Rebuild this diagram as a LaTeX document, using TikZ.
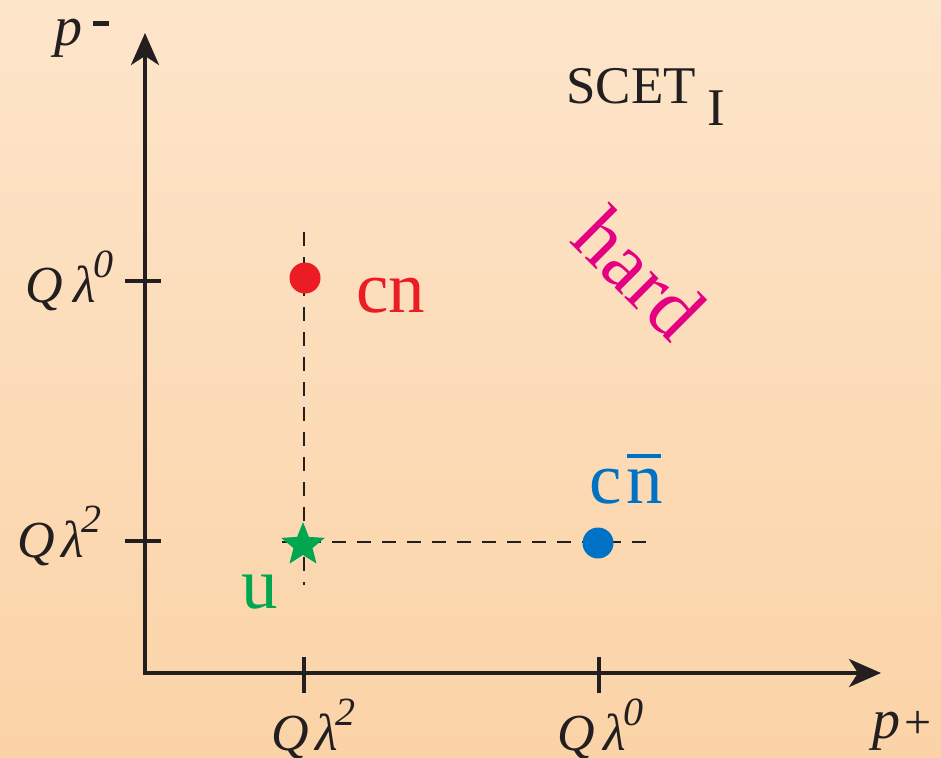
\documentclass[tikz,border=0pt]{standalone}
\usepackage{fontspec}
\setmainfont{Liberation Serif}
\usetikzlibrary{arrows.meta,shapes.geometric}
\definecolor{bgtop}{RGB}{253,229,202}
\definecolor{bgbot}{RGB}{251,211,167}
\definecolor{myred}{RGB}{236,28,36}
\definecolor{myblue}{RGB}{0,114,198}
\definecolor{mygreen}{RGB}{0,166,80}
\definecolor{mymag}{RGB}{228,0,130}
\definecolor{ink}{RGB}{35,31,32}
\newcommand{\ql}[2]{\textit{Q}\kern#2\textit{λ}\kern-3pt\raisebox{25pt}{\fontsize{40}{40}\selectfont\textit{#1}}}
\begin{document}
\begin{tikzpicture}[x=1pt,y=-1pt,
  axis/.style={ink,line width=3.8pt,-{Stealth[length=32pt,width=28pt,inset=9pt]}},
  tick/.style={ink,line width=3.2pt},
  guide/.style={ink,line width=1.5pt,dash pattern=on 14pt off 11pt},
  lab/.style={font=\fontsize{52}{56}\selectfont,text=ink,inner sep=0pt},
  big/.style={inner sep=0pt,font=\fontsize{73}{76}\selectfont},
  dot/.style={circle,inner sep=0pt,minimum size=31pt}]
\useasboundingbox (0,0) rectangle (941,757);
\shade[top color=bgtop,bottom color=bgbot] (0,0) rectangle (941,757);
% axis ends
\coordinate (ytop) at (145,33);
\coordinate (xend) at (881,673);
% guides
\coordinate (vg1) at (304,232);
\coordinate (vg2) at (304,585);
\coordinate (hg1) at (282,542);
\coordinate (hg2) at (650,542);
\draw[guide] (vg1) -- (vg2);
\draw[guide] (hg1) -- (hg2);
% axes
\draw[axis] (145,675) -- (ytop);
\draw[axis] (143,673) -- (xend);
% ticks
\coordinate (ty0a) at (125,281); \coordinate (ty0b) at (161,281);
\coordinate (ty2a) at (125,541); \coordinate (ty2b) at (161,541);
\coordinate (tx2a) at (304,657); \coordinate (tx2b) at (304,693);
\coordinate (tx0a) at (599,657); \coordinate (tx0b) at (599,693);
\draw[tick] (ty0a) -- (ty0b);
\draw[tick] (ty2a) -- (ty2b);
\draw[tick] (tx2a) -- (tx2b);
\draw[tick] (tx0a) -- (tx0b);
% axis labels
\node[lab,anchor=base west] (yl0) at (25,302) {\ql{0}{11pt}};
\node[lab,anchor=base west] (yl2) at (17,557) {\ql{2}{7pt}};
\node[lab,anchor=base west] (xl2) at (271,750) {\ql{2}{7pt}};
\node[lab,anchor=base west] (xl0) at (557,750) {\ql{0}{9pt}};
\node[lab,anchor=base west,font=\fontsize{56}{60}\selectfont] (pm) at (54,46) {\textit{p}\kern11pt\raisebox{20pt}{\rule{16pt}{5pt}}};
\node[lab,anchor=base west,font=\fontsize{56}{60}\selectfont] (pp) at (872,738) {\textit{p}\kern4pt{\fontsize{48}{50}\selectfont +}};
\node[lab,anchor=base west,font=\fontsize{53}{58}\selectfont] (scet) at (566,103) {SCET\kern12pt\raisebox{-22pt}{I}};
% points
\node[dot,fill=myred] (cn) at (305,278) {};
\node[dot,fill=myblue] (cnb) at (598,543) {};
\node[star,star points=5,star point ratio=2.3,fill=mygreen,inner sep=0pt,minimum size=46pt] (u) at (303,545) {};
\node[big,anchor=base,text=myred] (cnl) at (391,312) {cn};
\node[big,anchor=base west,text=myblue] (cnbl) at (589,503) {c\kern5pt\makebox[0pt][l]{\raisebox{45pt}{\rule{34pt}{4pt}}}n};
\node[big,anchor=base,text=mygreen] (ul) at (260,608) {u};
\node[text=mymag,inner sep=0pt,rotate=-45,font=\fontsize{82}{86}\selectfont] (hard) at (640,273) {hard};
\end{tikzpicture}
\end{document}
